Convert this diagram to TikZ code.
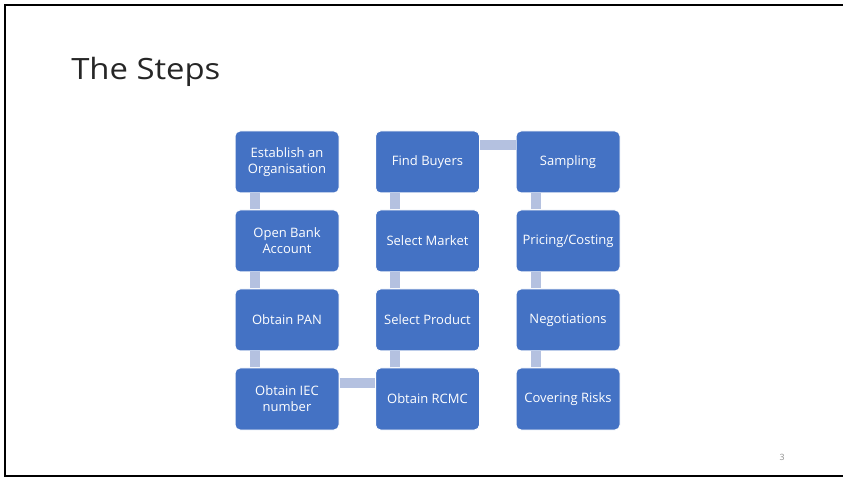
\documentclass[tikz,border=0pt]{standalone}
\usepackage{fontspec}
\setmainfont{Open Sans}
\usepackage{graphicx}
\definecolor{boxblue}{HTML}{4472C4}
\definecolor{barblue}{HTML}{B4C1E0}
\definecolor{pagegray}{HTML}{8C8C8C}
\begin{document}
\begin{tikzpicture}[x=0.75pt,y=-0.75pt,
  stepbox/.style={rectangle, rounded corners=3.75pt, fill=boxblue, draw=white,
    line width=0.75pt, text=white, align=center, inner sep=0pt,
    minimum width=78pt, minimum height=46.5pt,
    font=\fontsize{9.75pt}{12pt}\selectfont},
  bar/.style={draw=barblue, line width=7.5pt}]
\useasboundingbox (0,0) rectangle (843,477);
% slide frame (right side lies outside the picture)
\draw[line width=1.8pt, black] (860,5) -- (5,5) -- (5,476) -- (860,476);
% title
\node[anchor=base west, inner sep=0pt, text={black!85}, font=\fontsize{22pt}{26pt}\selectfont] (title) at (71,80) {\scalebox{1.12}[1]{The Steps}};
% column 1
\node[stepbox] (est) at (287,162) {Establish an\\Organisation};
\node[stepbox] (bank) at (287,241) {Open Bank\\Account};
\node[stepbox] (pan) at (287,320) {Obtain PAN};
\node[stepbox] (iec) at (287,399) {Obtain IEC\\number};
% column 2
\node[stepbox] (buy) at (427.5,162) {Find Buyers};
\node[stepbox] (mkt) at (427.5,241) {Select Market};
\node[stepbox] (prod) at (427.5,320) {Select Product};
\node[stepbox] (rcmc) at (427.5,399) {Obtain RCMC};
% column 3
\node[stepbox] (samp) at (568,162) {Sampling};
\node[stepbox] (price) at (568,241) {Pricing/Costing};
\node[stepbox] (neg) at (568,320) {Negotiations};
\node[stepbox] (risk) at (568,399) {Covering Risks};
% connectors
\draw[bar] ([xshift=15pt]est.south west) -- ([xshift=15pt]bank.north west);
\draw[bar] ([xshift=15pt]bank.south west) -- ([xshift=15pt]pan.north west);
\draw[bar] ([xshift=15pt]pan.south west) -- ([xshift=15pt]iec.north west);
\draw[bar] ([yshift=-12pt]iec.north east) -- ([yshift=-12pt]rcmc.north west);
\draw[bar] ([xshift=15pt]rcmc.north west) -- ([xshift=15pt]prod.south west);
\draw[bar] ([xshift=15pt]prod.north west) -- ([xshift=15pt]mkt.south west);
\draw[bar] ([xshift=15pt]mkt.north west) -- ([xshift=15pt]buy.south west);
\draw[bar] ([yshift=-11.25pt]buy.north east) -- ([yshift=-11.25pt]samp.north west);
\draw[bar] ([xshift=15pt]samp.south west) -- ([xshift=15pt]price.north west);
\draw[bar] ([xshift=15pt]price.south west) -- ([xshift=15pt]neg.north west);
\draw[bar] ([xshift=15pt]neg.south west) -- ([xshift=15pt]risk.north west);
% page number
\node[text=pagegray, font=\fontsize{6.5pt}{8pt}\selectfont] (pg) at (782,457) {3};
\end{tikzpicture}
\end{document}
